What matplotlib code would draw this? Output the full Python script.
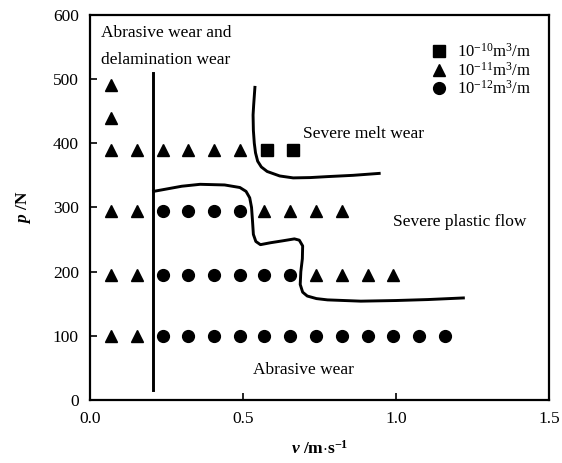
import matplotlib
matplotlib.use("Agg")
import matplotlib.pyplot as plt
from matplotlib.lines import Line2D

plt.rcParams['font.family'] = ['Liberation Serif', 'DejaVu Serif']
plt.rcParams['mathtext.fontset'] = 'custom'
plt.rcParams['mathtext.rm'] = 'Liberation Serif'
plt.rcParams['mathtext.it'] = 'Liberation Serif:italic'
plt.rcParams['mathtext.bf'] = 'Liberation Serif:bold'
plt.rcParams['mathtext.bfit'] = 'Liberation Serif:italic:bold'

# --- data ---
square_v = [0.58, 0.665]
square_p = [390, 390]

triangle_v = [0.07, 0.07, 0.07, 0.155, 0.24, 0.32, 0.405, 0.49,
              0.07, 0.155, 0.57, 0.655, 0.74, 0.825,
              0.07, 0.155, 0.74, 0.825, 0.91, 0.99,
              0.07, 0.155]
triangle_p = [490, 440, 390, 390, 390, 390, 390, 390,
              294, 294, 294, 294, 294, 294,
              195, 195, 195, 195, 195, 195,
              99, 99]

circle_v = [0.24, 0.32, 0.405, 0.49,
            0.24, 0.32, 0.405, 0.49, 0.57, 0.655,
            0.24, 0.32, 0.405, 0.49, 0.57, 0.655, 0.74, 0.825, 0.91, 0.99, 1.075, 1.16]
circle_p = [294, 294, 294, 294,
            195, 195, 195, 195, 195, 195,
            99, 99, 99, 99, 99, 99, 99, 99, 99, 99, 99, 99]

# boundary lines
divider_v = [0.207, 0.207]
divider_p = [15, 510]

plastic_v = [0.208, 0.30, 0.36, 0.44, 0.49, 0.51, 0.522, 0.528, 0.531, 0.534, 0.542, 0.557,
             0.59, 0.63, 0.668, 0.684, 0.695, 0.694, 0.689, 0.687, 0.695, 0.71, 0.74, 0.776,
             0.885, 1.0, 1.104, 1.22]
plastic_p = [325, 333, 336, 335, 331, 325, 315, 300, 280, 258, 247, 242,
             245, 248, 251, 249, 240, 220, 200, 180, 168, 162, 158, 156,
             154, 155, 156.5, 159]

melt_v = [0.539, 0.535, 0.533, 0.534, 0.537, 0.541, 0.548, 0.56, 0.579, 0.62, 0.664, 0.72,
          0.776, 0.86, 0.945]
melt_p = [487, 460, 444, 420, 400, 385, 372, 363, 356, 349, 346, 346.5,
          348, 350, 353]

legend_labels = [r'$10^{-10}$m$^3$/m', r'$10^{-11}$m$^3$/m', r'$10^{-12}$m$^3$/m']

fig = plt.figure(figsize=(5.62, 4.63), dpi=100)
ax = fig.add_axes([0.160, 0.136, 0.817, 0.832])

ms = 8.5
ax.plot(square_v, square_p, 's', color='black', markersize=ms, linestyle='none')
ax.plot(triangle_v, triangle_p, '^', color='black', markersize=ms, linestyle='none')
ax.plot(circle_v, circle_p, 'o', color='black', markersize=ms, linestyle='none')

lw = 2.1
ax.plot(divider_v, divider_p, color='black', lw=lw)
ax.plot(plastic_v, plastic_p, color='black', lw=lw)
ax.plot(melt_v, melt_p, color='black', lw=lw)

fs = 12.5
ax.text(0.035, 572, 'Abrasive wear and', fontsize=fs, va='center', ha='left')
ax.text(0.035, 529, 'delamination wear', fontsize=fs, va='center', ha='left')
ax.text(0.697, 415, 'Severe melt wear', fontsize=fs, va='center', ha='left')
ax.text(0.99, 278, 'Severe plastic flow', fontsize=fs, va='center', ha='left')
ax.text(0.532, 47, 'Abrasive wear', fontsize=fs, va='center', ha='left')

handles = [Line2D([], [], marker=m, color='black', linestyle='none', markersize=ms)
           for m in ['s', '^', 'o']]
ax.legend(handles, legend_labels, loc='upper right', frameon=False, fontsize=12,
          handletextpad=0.45, labelspacing=0.03, bbox_to_anchor=(0.985, 0.957),
          handlelength=1.2, borderpad=0.2)

ax.set_xlim(0, 1.5)
ax.set_ylim(0, 600)
ax.set_xticks([0, 0.5, 1.0, 1.5])
ax.set_xticklabels(['0.0', '0.5', '1.0', '1.5'])
ax.set_yticks([0, 100, 200, 300, 400, 500, 600])
ax.tick_params(direction='in', length=5, width=1.2, labelsize=fs, pad=8)
for s in ax.spines.values():
    s.set_linewidth(1.6)

ax.set_xlabel(r'$\mathbfit{v}$ /m$\cdot$s$^{\mathbf{-1}}$', fontsize=fs, fontweight='bold', labelpad=9)
ax.set_ylabel(r'$\mathbfit{p}$ /N', fontsize=fs, fontweight='bold', labelpad=14)

fig.savefig('out.png', dpi=100)
